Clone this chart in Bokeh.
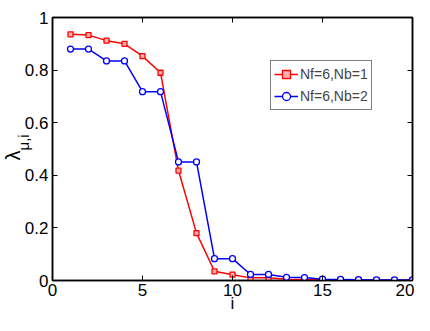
from bokeh.plotting import figure
from bokeh.models import Range1d, LinearAxis, FixedTicker, Legend, LegendItem, Title
from bokeh.embed import file_html
from bokeh.resources import INLINE

i_vals = list(range(1, 21))
nb1 = [0.936, 0.933, 0.912, 0.900, 0.853, 0.790, 0.418, 0.180, 0.035, 0.022,
       0.010, 0.010, 0.005, 0.004, 0.003, 0.002, 0.002, 0.001, 0.001, 0.001]
nb2 = [0.880, 0.880, 0.835, 0.835, 0.718, 0.718, 0.451, 0.451, 0.083, 0.083,
       0.023, 0.023, 0.012, 0.011, 0.005, 0.004, 0.003, 0.002, 0.002, 0.002]
x_ticks = [0, 5, 10, 15, 20]
y_ticks = [0, 0.2, 0.4, 0.6, 0.8, 1]
y_tick_labels = {0: "0", 0.2: "0.2", 0.4: "0.4", 0.6: "0.6", 0.8: "0.8", 1: "1"}
series_labels = ["Nf=6,Nb=1", "Nf=6,Nb=2"]

FONT = "Liberation Sans"

p = figure(width=414, height=315, output_backend="svg", toolbar_location=None,
           x_range=Range1d(0, 20), y_range=Range1d(0, 1),
           min_border_left=52, min_border_right=2, min_border_top=17, min_border_bottom=0)
p.xgrid.visible = False
p.ygrid.visible = False
p.outline_line_color = "black"
p.outline_line_width = 1.5
p.background_fill_color = "white"
p.border_fill_color = "white"


def style_axis(ax, labels=True):
    ax.axis_line_color = "black"
    ax.axis_line_width = 1.5
    ax.major_tick_in = 5
    ax.major_tick_out = 0
    ax.major_tick_line_color = "black"
    ax.minor_tick_line_color = None
    ax.major_label_text_font = FONT
    ax.major_label_text_font_size = "17px"
    ax.major_label_text_color = "black"
    if not labels:
        ax.major_label_text_font_size = "0px"
        ax.major_label_text_color = None
        ax.major_label_standoff = 0


p.xaxis.ticker = FixedTicker(ticks=x_ticks)
p.yaxis.ticker = FixedTicker(ticks=y_ticks)
p.yaxis.major_label_overrides = y_tick_labels
style_axis(p.xaxis[0])
style_axis(p.yaxis[0])
p.xaxis.major_label_standoff = 3
p.yaxis.major_label_standoff = 4
p.xaxis.axis_label = "i"
p.xaxis.axis_label_text_font = FONT
p.xaxis.axis_label_text_font_size = "17px"
p.xaxis.axis_label_text_font_style = "normal"
p.xaxis.axis_label_text_color = "black"
p.xaxis.axis_label_standoff = -5

top = LinearAxis(ticker=FixedTicker(ticks=x_ticks))
style_axis(top, labels=False)
p.add_layout(top, "above")
right = LinearAxis(ticker=FixedTicker(ticks=y_ticks))
style_axis(right, labels=False)
p.add_layout(right, "right")

r1l = p.line(i_vals, nb1, line_color="red", line_width=1.5)
r1m = p.scatter(i_vals, nb1, marker="square", size=5, line_color="red",
                fill_color="#ffb0b0", line_width=1.3)
r2l = p.line(i_vals, nb2, line_color="blue", line_width=1.5)
r2m = p.scatter(i_vals, nb2, marker="circle", size=6, line_color="blue",
                fill_color="white", line_width=1.3)

legend = Legend(items=[LegendItem(label=series_labels[0], renderers=[r1l, r1m]),
                       LegendItem(label=series_labels[1], renderers=[r2l, r2m])],
                location=(218, 170))
legend.label_text_font = FONT
legend.label_text_font_size = "14px"
legend.glyph_width = 24
legend.glyph_height = 20
legend.label_height = 20
legend.label_standoff = 2
legend.spacing = 2
legend.padding = 3
legend.margin = 0
legend.border_line_color = "black"
legend.border_line_width = 1
legend.background_fill_alpha = 1
p.add_layout(legend, "center")

# y-axis label: lambda with subscript, as rotated side titles
sub_title = Title(text="μ,i", align="left", offset=130, standoff=-20,
                  text_font=FONT, text_font_size="15px", text_font_style="normal",
                  text_color="black")
lam_title = Title(text="λ", align="left", offset=120, standoff=-4,
                  text_font=FONT, text_font_size="20px", text_font_style="normal",
                  text_color="black")
p.add_layout(sub_title, "left")
p.add_layout(lam_title, "left")

open("out.html", "w").write(file_html(p, INLINE))
